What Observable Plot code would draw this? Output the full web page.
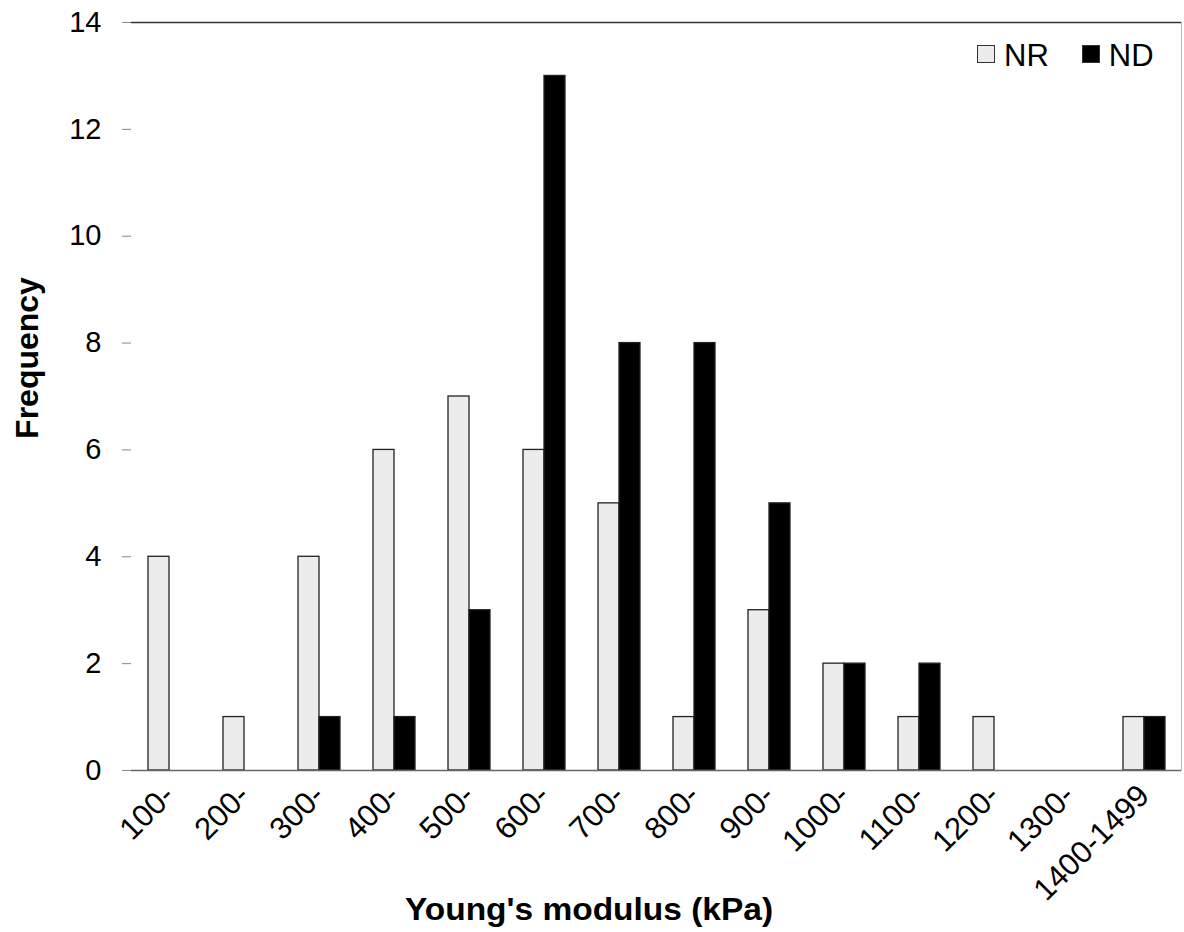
<!DOCTYPE html>
<html>
<head>
<meta charset="utf-8">
<script src="https://cdn.jsdelivr.net/npm/d3@7"></script>
<script src="https://cdn.jsdelivr.net/npm/@observablehq/plot@0.6"></script>
<style>
  html, body { margin: 0; padding: 0; background: #fff; }
  #wrap { position: relative; width: 1184px; height: 932px; font-family: "Liberation Sans", Arial, sans-serif; color: #000; }
  #chart svg { display: block; }
  .ytitle { position: absolute; left: 27px; top: 358px; transform: translate(-50%, -50%) rotate(-90deg); font-weight: bold; font-size: 32px; white-space: nowrap; }
  .xtitle { position: absolute; left: 589px; top: 910px; transform: translate(-50%, -50%) scaleX(1.08); font-weight: bold; font-size: 31px; white-space: nowrap; }
  .legend { position: absolute; left: 977px; top: 38px; display: flex; align-items: center; font-size: 31px; }
  .sw { width: 18px; height: 18px; box-sizing: border-box; display: inline-block; margin-right: 9px; position: relative; top: -2px; }
  .item { display: flex; align-items: center; margin-right: 33px; }
</style>
</head>
<body>
<div id="wrap">
  <div id="chart"></div>
  <div class="ytitle">Frequency</div>
  <div class="xtitle">Young's modulus (kPa)</div>
  <div class="legend" id="legend"></div>
</div>
<script>
const categories = ["100-","200-","300-","400-","500-","600-","700-","800-","900-","1000-","1100-","1200-","1300-","1400-1499"];
const nrValues = [4,1,4,6,7,6,5,1,3,2,1,1,0,1];
const ndValues = [0,0,1,1,3,13,8,8,5,2,2,0,0,1];
const seriesNames = ["NR","ND"];
const seriesColors = ["#ececec","#000000"];
const yTicks = [0,2,4,6,8,10,12,14];

const data = categories.flatMap((c, i) => [
  {cat: c, series: "NR", value: nrValues[i]},
  {cat: c, series: "ND", value: ndValues[i]}
]).filter(d => d.value > 0);

const chart = Plot.plot({
  width: 1184,
  height: 932,
  marginLeft: 129,
  marginRight: 1,
  marginTop: 22,
  marginBottom: 162,
  style: {fontFamily: "'Liberation Sans', Arial, sans-serif", fontSize: "29px", color: "#000", background: "#fff"},
  fx: {domain: categories, padding: 0, label: null},
  x: {domain: seriesNames, paddingInner: 0, paddingOuter: 0.711, axis: null},
  y: {domain: [0, 14], label: null},
  color: {domain: seriesNames, range: seriesColors},
  marks: [
    Plot.ruleY(categories, {fx: d => d, y: 14, stroke: "#333", strokeWidth: 1.5}),
    Plot.barY(data, {fx: "cat", x: "series", y: "value", fill: "series", stroke: "#222", strokeWidth: 1.3}),
    Plot.ruleY(categories, {fx: d => d, y: 0, stroke: "#666", strokeWidth: 1.5}),
    Plot.frame({anchor: "right", facetAnchor: "right", stroke: "#bbb"}),
    Plot.axisY({ticks: yTicks, tickSize: 9, tickPadding: 21, stroke: "#888", line: true, label: null, fontSize: 29}),
    Plot.axisFx({anchor: "bottom", tickRotate: -45, tickSize: 0, tickPadding: 20, label: null, fontSize: 31})
  ]
});
document.getElementById("chart").appendChild(chart);

const legend = document.getElementById("legend");
seriesNames.forEach((s, i) => {
  const item = document.createElement("div");
  item.className = "item";
  const sw = document.createElement("span");
  sw.className = "sw";
  sw.style.background = seriesColors[i];
  sw.style.border = "1.5px solid #333";
  item.appendChild(sw);
  const t = document.createElement("span");
  t.textContent = s;
  item.appendChild(t);
  legend.appendChild(item);
});
</script>
</body>
</html>
